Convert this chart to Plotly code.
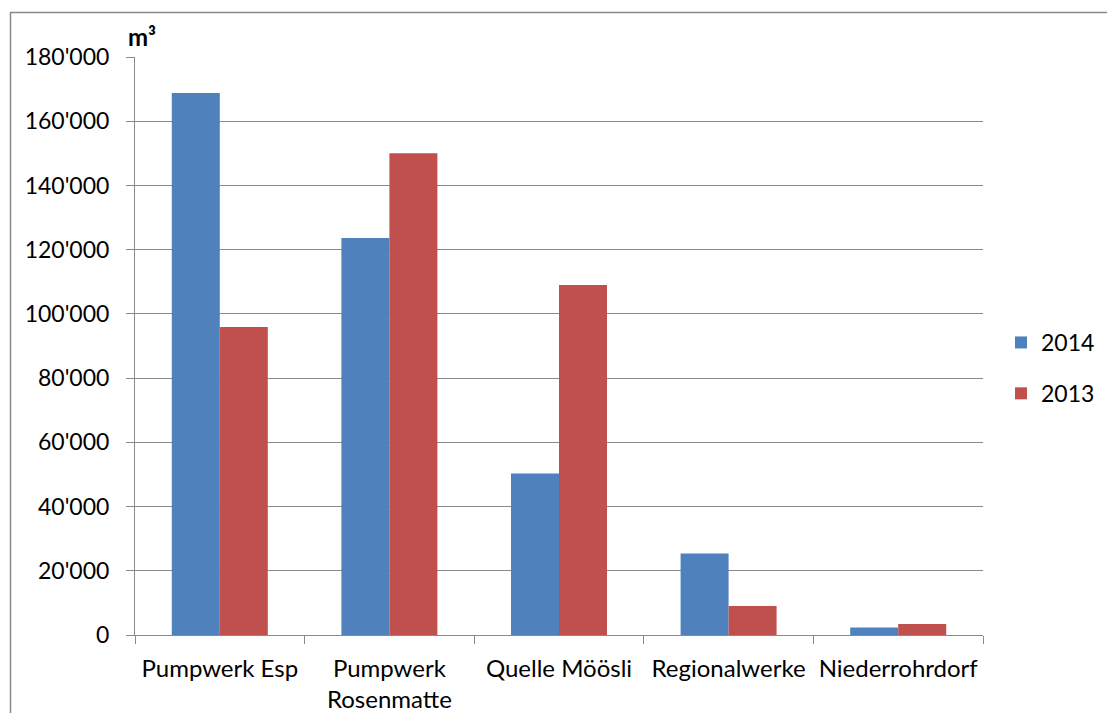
import plotly.graph_objects as go

categories = ["Pumpwerk Esp", "Pumpwerk<br>Rosenmatte", "Quelle Möösli", "Regionalwerke", "Niederrohrdorf"]
series_2014 = [168800, 123600, 50300, 25400, 2300]
series_2013 = [95900, 150000, 109000, 9000, 3400]
y_ticks = [0, 20000, 40000, 60000, 80000, 100000, 120000, 140000, 160000, 180000]
y_tick_labels = ["0", "20'000", "40'000", "60'000", "80'000", "100'000", "120'000", "140'000", "160'000", "180'000"]

FONT = "Lato, 'Open Sans', sans-serif"
GRID = "#8a8a8a"
FS = 23

fig = go.Figure()
fig.add_trace(go.Bar(x=categories, y=series_2014, name="2014", marker_color="#4F81BD",
                     marker_line_width=0, legendgroup="a"))
fig.add_trace(go.Bar(x=categories, y=series_2013, name="2013", marker_color="#C0504D",
                     marker_line_width=0, legendgroup="b"))

W, H = 1107, 713
L, R, T, B = 135, 983, 57, 635

fig.update_layout(
    width=W, height=H,
    margin=dict(l=L, r=W - R, t=T, b=H - B, pad=0, autoexpand=False),
    paper_bgcolor="white", plot_bgcolor="white",
    barmode="group", bargap=0.434, bargroupgap=0,
    font=dict(family=FONT, size=FS, color="black"),
    showlegend=True,
    legend=dict(xref="container", yref="container", x=1001 / W, y=1 - 368 / H,
                xanchor="left", yanchor="middle",
                font=dict(size=FS), tracegroupgap=18, itemwidth=30,
                bgcolor="rgba(0,0,0,0)"),
    xaxis=dict(type="category", tickson="boundaries", ticks="outside", ticklen=8,
               tickcolor=GRID, showline=True, linecolor=GRID, linewidth=1,
               showgrid=False, tickfont=dict(size=FS + 1), ticklabelstandoff=12,
               automargin=False),
    yaxis=dict(range=[0, 180000], tickvals=y_ticks, ticktext=y_tick_labels,
               ticks="outside", ticklen=8, tickcolor=GRID, showline=True,
               linecolor=GRID, linewidth=1, showgrid=True, gridcolor=GRID,
               gridwidth=1, zeroline=False, tickfont=dict(size=FS),
               ticklabelstandoff=12, automargin=False),
)

# outer chart frame
pw, ph = R - L, B - T
fig.add_shape(type="rect", xref="paper", yref="paper",
              x0=(10.5 - L) / pw, x1=(1200 - L) / pw,
              y0=(B - 800) / ph, y1=(B - 12.5) / ph,
              line=dict(color=GRID, width=1.5), fillcolor="rgba(0,0,0,0)", layer="below")

fig.add_annotation(text="<b>m³</b>", xref="paper", yref="paper",
                   x=(126 - L) / pw, y=(B - 53) / ph, xanchor="left", yanchor="bottom",
                   showarrow=False, font=dict(size=FS + 1, family=FONT))

fig.write_html("out.html")
